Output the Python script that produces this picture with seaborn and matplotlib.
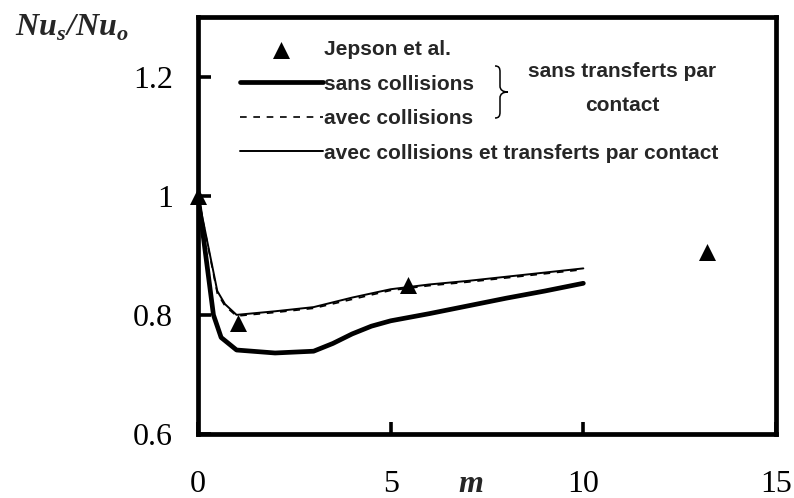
import numpy as np
import seaborn as sns
import matplotlib
matplotlib.use("Agg")
import matplotlib.pyplot as plt
from matplotlib.path import Path
from matplotlib.patches import PathPatch

# valeurs
m_sans = [0, 0.4, 0.6, 1.0, 2.0, 3.0, 3.5, 4.0, 4.5, 5.0, 6.0, 7.0, 8.0, 9.0, 10.0]
nu_sans = [1.0, 0.800, 0.762, 0.741, 0.736, 0.739, 0.752, 0.768, 0.781, 0.790, 0.802, 0.815, 0.828, 0.840, 0.853]

m_avec = [0, 0.5, 0.7, 1.0, 2.0, 3.0, 4.0, 5.0, 6.0, 7.0, 8.0, 9.0, 10.0]
nu_avec = [1.0, 0.836, 0.815, 0.798, 0.804, 0.811, 0.826, 0.841, 0.849, 0.855, 0.862, 0.869, 0.876]
nu_transf = [1.0, 0.840, 0.818, 0.800, 0.806, 0.813, 0.829, 0.843, 0.851, 0.857, 0.864, 0.871, 0.878]

m_jepson = [0, 1.03, 5.45, 13.2]
nu_jepson = [1.0, 0.786, 0.850, 0.906]

xticks = [0, 5, 10, 15]
yticks = [0.6, 0.8, 1.0, 1.2]
ytick_labels = ["0.6", "0.8", "1", "1.2"]

sns.set_style("ticks")
plt.rcParams["font.family"] = ["Liberation Sans", "DejaVu Sans"]
plt.rcParams["mathtext.fontset"] = "custom"
plt.rcParams["mathtext.rm"] = "Liberation Serif"
plt.rcParams["mathtext.bfit"] = "Liberation Serif:bold:italic"

fig = plt.figure(figsize=(7.94, 4.98), dpi=100)
ax = fig.add_axes([0.2494, 0.1285, 0.7279, 0.8374])

sns.lineplot(x=m_sans, y=nu_sans, ax=ax, color="black", linewidth=3.4,
             label="sans collisions")
sns.lineplot(x=m_avec, y=nu_avec, ax=ax, color="black", linewidth=1.2,
             linestyle=(0, (4, 4)), label="avec collisions")
sns.lineplot(x=m_avec, y=nu_transf, ax=ax, color="black", linewidth=1.4,
             label="avec collisions et transferts par contact")
sns.scatterplot(x=m_jepson, y=nu_jepson, ax=ax, marker="^", s=150, color="black",
                edgecolor="black", linewidth=0, label="Jepson et al.",
                zorder=5, clip_on=False)

ax.set_xlim(0, 15)
ax.set_ylim(0.6, 1.3)
ax.set_xticks(xticks)
ax.set_xticklabels([str(t) for t in xticks])
ax.set_yticks(yticks)
ax.set_yticklabels(ytick_labels)
ax.tick_params(axis="both", direction="in", length=9, width=2.6,
               labelsize=23, colors="black")
ax.tick_params(axis="y", pad=18)
ax.tick_params(axis="x", pad=26)
for lab in ax.get_xticklabels() + ax.get_yticklabels():
    lab.set_family("Liberation Serif")
for sp in ax.spines.values():
    sp.set_visible(True)
    sp.set_linewidth(3.4)
    sp.set_color("black")

ax.set_xlabel(r"$\mathbfit{m}$", fontsize=23, va="baseline")
ax.xaxis.set_label_coords(0.472, -0.139)
ax.set_ylabel(r"$\mathbfit{Nu}_{\mathbfit{s}}\mathbfit{/Nu}_{\mathbfit{o}}$",
              fontsize=23, rotation=0, ha="center", va="center")
ax.yaxis.set_label_coords(-0.218, 0.975)

handles, labels = ax.get_legend_handles_labels()
order = ["Jepson et al.", "sans collisions", "avec collisions",
         "avec collisions et transferts par contact"]
hmap = dict(zip(labels, handles))
leg = ax.legend([hmap[k] for k in order], order, loc="upper left",
                bbox_to_anchor=(0.072, 0.944), frameon=False, borderpad=0,
                borderaxespad=0, handlelength=4.0, handletextpad=0.05,
                labelspacing=0.74, scatterpoints=1,
                prop={"family": "Liberation Sans", "weight": "bold", "size": 15})


def px(x, y):
    return ((x - 198) / 578, (434 - y) / 417)


brace_pts = [(495, 66), (499, 66), (500, 68), (500, 72), (500, 86),
             (500, 90), (503, 92), (508, 92), (503, 92), (500, 94), (500, 98),
             (500, 112), (500, 116), (499, 118), (495, 118)]
codes = [Path.MOVETO, Path.CURVE4, Path.CURVE4, Path.CURVE4, Path.LINETO,
         Path.CURVE4, Path.CURVE4, Path.CURVE4, Path.CURVE4, Path.CURVE4, Path.CURVE4,
         Path.LINETO, Path.CURVE4, Path.CURVE4, Path.CURVE4]
brace = Path([px(*p) for p in brace_pts], codes)
ax.add_patch(PathPatch(brace, transform=ax.transAxes, facecolor="none",
                       edgecolor="black", linewidth=1.1, clip_on=False))

ax.text(*px(622, 72), "sans transferts par", transform=ax.transAxes,
        ha="center", va="center", fontsize=15, fontweight="bold")
ax.text(*px(622, 106), "contact", transform=ax.transAxes,
        ha="center", va="center", fontsize=15, fontweight="bold")

fig.savefig("out.png", dpi=100)
